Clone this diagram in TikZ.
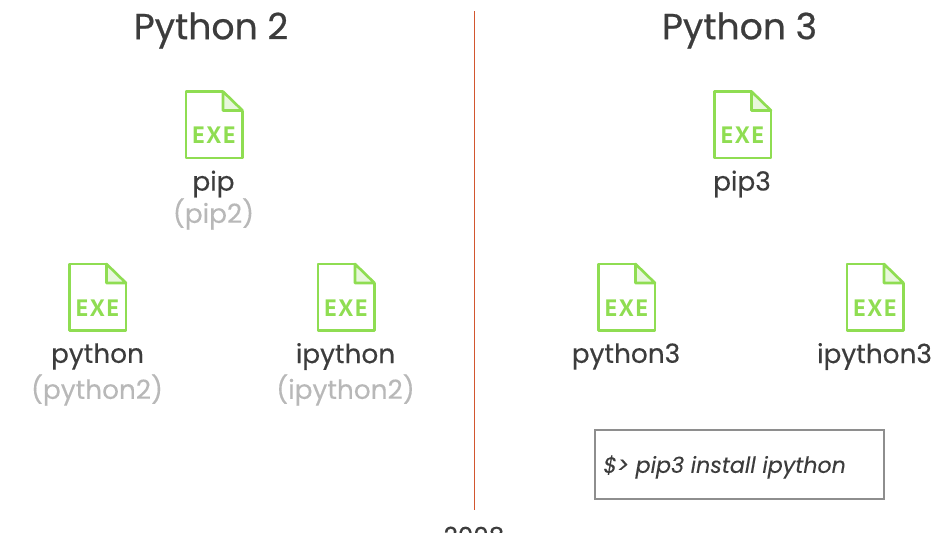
\documentclass[tikz,border=0pt]{standalone}
\usepackage{fontspec}
\setmainfont{Poppins}
\newfontfamily\medfont{Poppins}[FakeBold=0.3]
\newfontfamily\titlefont{Poppins}[FakeBold=0.6]
\newfontfamily\meditalic{Poppins Italic}[FakeBold=0.15]
\newfontfamily\exefont{PT Sans Bold}[LetterSpace=7]
\definecolor{exegreen}{HTML}{8FDD52}
\definecolor{foldgreen}{HTML}{E8F7DC}
\definecolor{labeltext}{HTML}{3C3C3C}
\definecolor{subtext}{HTML}{B8B8B8}
\definecolor{yearline}{HTML}{D2562F}
\definecolor{boxline}{HTML}{8E8E8E}
\tikzset{
	title/.style={text=labeltext,font=\titlefont\fontsize{20.6}{22}\selectfont,inner sep=0pt},
	tool/.style={text=labeltext,font=\medfont\fontsize{15}{17}\selectfont,inner sep=0pt},
	subtool/.style={text=subtext,font=\medfont\fontsize{15}{17}\selectfont,inner sep=0pt},
	exefile/.pic={
		\filldraw[fill=foldgreen,draw=exegreen,line width=1.5pt,line join=round] (0.18,0.67) -- (0.18,0.29) -- (0.57,0.29) -- cycle;
		\draw[exegreen,line width=1.5pt,line join=round] (0.18,0.67) -- (-0.56,0.67) -- (-0.56,-0.66) -- (0.57,-0.66) -- (0.57,0.29);
		\node[text=exegreen,font=\exefont\fontsize{13.5}{14}\selectfont,inner sep=0pt] (-exe) at (0,-0.21) {EXE};
	}
}
\begin{document}
\begin{tikzpicture}
	\clip (0,0) rectangle (19.04,10.64);
	\useasboundingbox (0,0) rectangle (19.04,10.64);

	% divider and year
	\coordinate (linetop) at (9.49,10.42);
	\coordinate (linebottom) at (9.49,0.44);
	\draw[yearline,line width=1.1pt] (linetop) -- (linebottom);
	\node[tool,font=\medfont\fontsize{14}{16}\selectfont] (year) at (9.48,-0.08) {2008};

	% python 2 side
	\node[title] (py2) at (4.22,10.03) {Python 2};
	\pic (pipicon) at (4.28,8.14) {exefile};
	\node[tool] (pip) at (4.27,6.96) {pip};
	\node[subtool] (pip2) at (4.27,6.36) {(pip2)};
	\pic (pythonicon) at (1.95,4.69) {exefile};
	\node[tool] (python) at (1.95,3.51) {python};
	\node[subtool] (python2) at (1.94,2.84) {(python2)};
	\pic (ipythonicon) at (6.92,4.69) {exefile};
	\node[tool] (ipython) at (6.91,3.51) {ipython};
	\node[subtool] (ipython2) at (6.91,2.84) {(ipython2)};

	% python 3 side
	\node[title] (py3) at (14.79,10.03) {Python 3};
	\pic (pip3icon) at (14.85,8.14) {exefile};
	\node[tool] (pip3) at (14.84,6.96) {pip3};
	\pic (python3icon) at (12.53,4.69) {exefile};
	\node[tool] (python3) at (12.52,3.51) {python3};
	\pic (ipython3icon) at (17.5,4.69) {exefile};
	\node[tool] (ipython3) at (17.49,3.51) {ipython3};

	% install command
	\node[draw=boxline,line width=0.9pt,minimum width=5.78cm,minimum height=1.39cm,inner sep=0pt] (cmdbox) at (14.79,1.35) {};
	\node[anchor=west,text=labeltext,font=\meditalic\fontsize{12.6}{14}\selectfont,inner sep=0pt] (cmd) at (12.06,1.30) {\$> pip3 install ipython};
\end{tikzpicture}
\end{document}
